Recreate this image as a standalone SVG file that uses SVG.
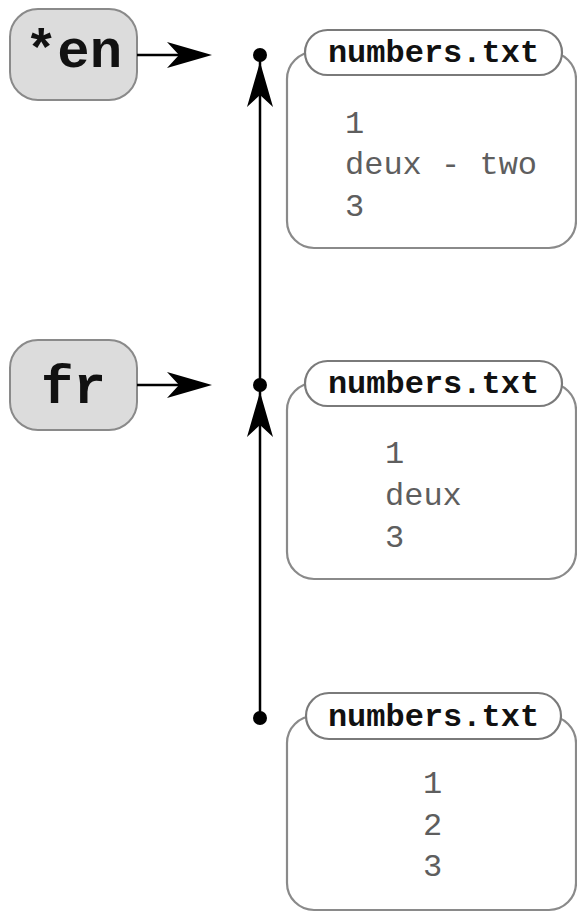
<svg xmlns="http://www.w3.org/2000/svg" width="577" height="912" viewBox="0 0 577 912">
<style>
.branch{fill:#dcdcdc;stroke:#8a8a8a;stroke-width:2}
.branchtxt{font-family:"Liberation Mono",monospace;font-weight:bold;font-size:54px;fill:#111;text-anchor:middle}
.body{fill:#fff;stroke:#8a8a8a;stroke-width:2.2}
.pill{fill:#fff;stroke:#7a7a7a;stroke-width:2.2}
.title{font-family:"Liberation Mono",monospace;font-weight:bold;font-size:32px;fill:#111;text-anchor:middle}
.content{font-family:"Liberation Mono",monospace;font-size:32px;fill:#5e5e5e}
.conn{stroke:#000;stroke-width:2.5;fill:none}
.head{fill:#000}
.dot{fill:#000}
</style>
<defs>
<path id="arrowR" d="M0,0 L-45,-13 L-33,0 L-45,13 Z"/>
</defs>
<g id="branch-en">
<rect class="branch" x="10" y="9" width="127" height="91" rx="28"/>
<text class="branchtxt" x="73.5" y="67">*en</text>
</g>
<g id="branch-fr">
<rect class="branch" x="10" y="340" width="127" height="90" rx="28"/>
<text class="branchtxt" x="73.5" y="403">fr</text>
</g>
<g id="file-top">
<rect class="body" x="287" y="52" width="289" height="196" rx="27"/>
<rect class="pill" x="305" y="30" width="257" height="45" rx="22.5"/>
<text class="title" x="433.5" y="62">numbers.txt</text>
<text class="content" x="345" y="133">1</text>
<text class="content" x="345" y="174">deux - two</text>
<text class="content" x="345" y="216">3</text>
</g>
<g id="file-mid">
<rect class="body" x="287" y="383" width="289" height="196" rx="27"/>
<rect class="pill" x="305" y="361" width="257" height="45" rx="22.5"/>
<text class="title" x="433.5" y="393">numbers.txt</text>
<text class="content" x="385" y="463">1</text>
<text class="content" x="385" y="505">deux</text>
<text class="content" x="385" y="547">3</text>
</g>
<g id="file-bottom">
<rect class="body" x="287" y="716" width="289" height="194" rx="27"/>
<rect class="pill" x="306" y="693" width="255" height="46" rx="23"/>
<text class="title" x="433.5" y="726">numbers.txt</text>
<text class="content" x="423" y="793">1</text>
<text class="content" x="423" y="835">2</text>
<text class="content" x="423" y="876">3</text>
</g>
<g id="connectors">
<line class="conn" x1="137" y1="55" x2="185" y2="55"/>
<use href="#arrowR" class="head" transform="translate(212,55)"/>
<line class="conn" x1="137" y1="385" x2="185" y2="385"/>
<use href="#arrowR" class="head" transform="translate(212,385)"/>
<line class="conn" x1="260" y1="55" x2="260" y2="718"/>
<use href="#arrowR" class="head" transform="translate(260,62) rotate(-90)"/>
<use href="#arrowR" class="head" transform="translate(260,392) rotate(-90)"/>
<circle class="dot" cx="260" cy="55" r="7"/>
<circle class="dot" cx="260" cy="385" r="7"/>
<circle class="dot" cx="260" cy="718" r="7"/>
</g>
</svg>
